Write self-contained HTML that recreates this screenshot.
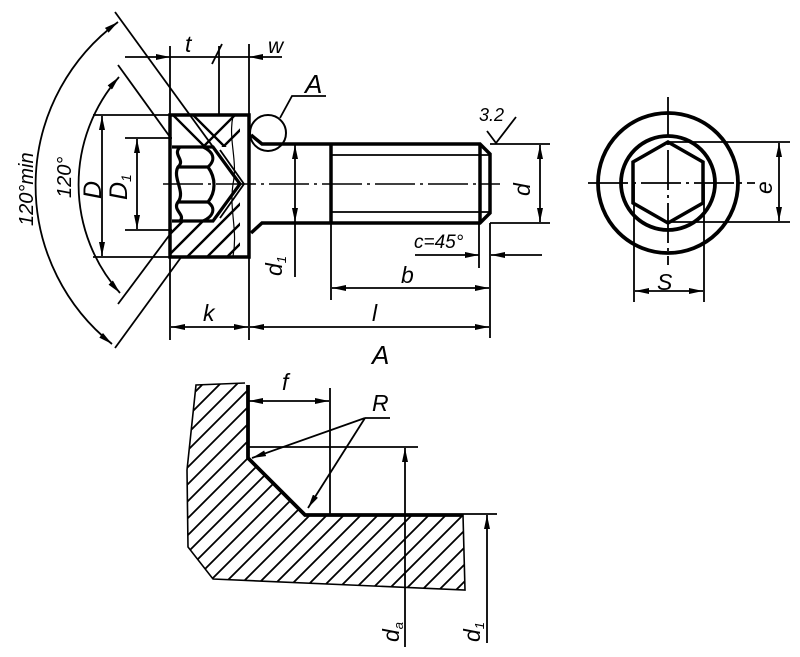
<!DOCTYPE html>
<html><head><meta charset="utf-8"><style>
html,body{margin:0;padding:0;background:#fff;}
svg{display:block;}
text{font-family:"Liberation Sans",sans-serif;font-style:italic;fill:#000;}
</style></head><body>
<svg width="800" height="657" viewBox="0 0 800 657" xmlns="http://www.w3.org/2000/svg">
<defs>
<marker id="a" viewBox="0 0 14 6" refX="14" refY="3" markerWidth="14" markerHeight="6" markerUnits="userSpaceOnUse" orient="auto-start-reverse"><path d="M0,0 L14,3 L0,6 z" fill="#000"/></marker>
<clipPath id="cs"><path d="M196,385 L245,383 L248,385 V458 L305,515 H463 L465,590 L213,579 L188,547 L187,470z"/></clipPath>
<clipPath id="ch1"><path d="M171,116 H240 V147 H171z"/></clipPath>
<clipPath id="ch2"><path d="M171,221 H213 L240,186 V256 H171z"/></clipPath>
</defs>
<g fill="none" stroke="#000">
<g clip-path="url(#ch1)" stroke-width="2.4">
<path d="M90,260 l150,-150 M110,260 l150,-150 M130,260 l150,-150 M150,260 l150,-150"/>
<path d="M168,110 l50,50 M188,110 l50,50"/>
</g>
<g clip-path="url(#ch2)" stroke-width="2.4">
<path d="M84,320 l150,-150 M104,320 l150,-150 M124,320 l150,-150 M144,320 l150,-150 M164,320 l150,-150 M184,320 l150,-150"/>
</g>
<path d="M233,116 C228,140 238,160 233,184 C229,210 238,230 233,256" stroke-width="1.2"/>
<rect x="170" y="115" width="79" height="142" stroke-width="3.5"/>
<path d="M172,147 H213 L240,184 L213,221 H172" stroke-width="3.2"/>
<path d="M180,147 C172,155 186,160 178,167 C172,178 186,192 178,202 C172,210 186,215 180,221" stroke-width="3.2"/>
<path d="M178,167 H208 C216,178 216,192 208,202 H178" stroke-width="3.2"/>
<path d="M203,147 C214,152 216,160 208,167" stroke-width="3"/>
<path d="M203,221 C214,216 216,208 208,202" stroke-width="3"/>
<path d="M220,150 L244,184 L220,218" stroke-width="1.8"/>
<path d="M251,135 L262,144 H480 L490,154 V213 L480,223 H262 L251,233" stroke-width="3.5"/>
<line x1="331" y1="144" x2="331" y2="223" stroke-width="3.5"/>
<line x1="480" y1="144" x2="480" y2="223" stroke-width="3.5"/>
<line x1="331" y1="155" x2="490" y2="155" stroke-width="1.8"/>
<line x1="331" y1="212" x2="490" y2="212" stroke-width="1.8"/>
<line x1="163" y1="184" x2="500" y2="184" stroke-width="1.5" stroke-dasharray="40,5,3,5"/>
<circle cx="268" cy="133" r="18" stroke-width="2"/>
<path d="M280,118 L292,96 H326" stroke-width="1.8"/>
<g stroke-width="1.8">
<line x1="115" y1="12" x2="240" y2="184"/>
<line x1="115" y1="348" x2="182" y2="256"/>
<line x1="118" y1="65" x2="170" y2="137"/>
<line x1="118" y1="304" x2="171" y2="233"/>
<path d="M118,22 A203,203 0 0 0 112,344" marker-start="url(#a)" marker-end="url(#a)"/>
<path d="M119,77 A163,163 0 0 0 120,293" marker-start="url(#a)" marker-end="url(#a)"/>
<line x1="93" y1="115" x2="170" y2="115"/><line x1="93" y1="257" x2="170" y2="257"/>
<line x1="102" y1="116" x2="102" y2="256" marker-start="url(#a)" marker-end="url(#a)"/>
<line x1="125" y1="138" x2="172" y2="138"/><line x1="125" y1="230" x2="172" y2="230"/>
<line x1="137" y1="139" x2="137" y2="229" marker-start="url(#a)" marker-end="url(#a)"/>
<line x1="170" y1="46" x2="170" y2="115"/><line x1="219" y1="46" x2="219" y2="115"/><line x1="249" y1="44" x2="249" y2="115"/>
<line x1="125" y1="57" x2="170" y2="57" marker-end="url(#a)"/>
<line x1="170" y1="57" x2="249" y2="57"/>
<line x1="282" y1="57" x2="249" y2="57" marker-end="url(#a)"/>
<line x1="212" y1="64" x2="222" y2="44"/>
<line x1="170" y1="257" x2="170" y2="340"/><line x1="249" y1="257" x2="249" y2="340"/>
<line x1="490" y1="223" x2="490" y2="338"/><line x1="331" y1="223" x2="331" y2="300"/>
<line x1="171" y1="327" x2="248" y2="327" marker-start="url(#a)" marker-end="url(#a)"/>
<line x1="250" y1="327" x2="489" y2="327" marker-start="url(#a)" marker-end="url(#a)"/>
<line x1="332" y1="288" x2="489" y2="288" marker-start="url(#a)" marker-end="url(#a)"/>
<line x1="295" y1="145" x2="295" y2="222" marker-start="url(#a)" marker-end="url(#a)"/>
<line x1="295" y1="222" x2="295" y2="277"/>
<line x1="479" y1="223" x2="479" y2="268"/>
<line x1="415" y1="255" x2="479" y2="255" marker-end="url(#a)"/>
<line x1="542" y1="255" x2="491" y2="255" marker-end="url(#a)"/>
<line x1="490" y1="144" x2="550" y2="144"/><line x1="490" y1="223" x2="550" y2="223"/>
<line x1="540" y1="145" x2="540" y2="222" marker-start="url(#a)" marker-end="url(#a)"/>
<path d="M487,131 L496,143 L516,117"/>
</g>
<circle cx="668" cy="183" r="70" stroke-width="3.8"/>
<circle cx="668" cy="183" r="47" stroke-width="3.8"/>
<polygon points="668,142 703,162 703,203 668,223 633,203 633,162" stroke-width="3.5"/>
<g stroke-width="1.8">
<line x1="588" y1="183" x2="755" y2="183" stroke-dasharray="40,5,3,5"/>
<line x1="668" y1="97" x2="668" y2="265" stroke-dasharray="40,5,3,5"/>
<line x1="668" y1="142" x2="790" y2="142"/><line x1="668" y1="222" x2="790" y2="222"/>
<line x1="779" y1="143" x2="779" y2="221" marker-start="url(#a)" marker-end="url(#a)"/>
<line x1="634" y1="184" x2="634" y2="302"/><line x1="704" y1="184" x2="704" y2="302"/>
<line x1="635" y1="291" x2="703" y2="291" marker-start="url(#a)" marker-end="url(#a)"/>
</g>
<g clip-path="url(#cs)" stroke-width="1.8">
<path d="M-64,600 l240,-240 M-47,600 l240,-240 M-30,600 l240,-240 M-13,600 l240,-240 M4,600 l240,-240 M21,600 l240,-240 M38,600 l240,-240 M55,600 l240,-240 M72,600 l240,-240 M89,600 l240,-240 M106,600 l240,-240 M123,600 l240,-240 M140,600 l240,-240 M157,600 l240,-240 M174,600 l240,-240 M191,600 l240,-240 M208,600 l240,-240 M225,600 l240,-240 M242,600 l240,-240 M259,600 l240,-240 M276,600 l240,-240 M293,600 l240,-240 M310,600 l240,-240 M327,600 l240,-240 M344,600 l240,-240 M361,600 l240,-240 M378,600 l240,-240 M395,600 l240,-240 M412,600 l240,-240 M429,600 l240,-240 M446,600 l240,-240 M463,600 l240,-240"/>
</g>
<path d="M248,458 L305,515 H463 L465,590 L213,579 L188,547 L187,470 L196,385 L245,383" stroke-width="1.6"/>
<path d="M248,385 V458 L305,515 H463" stroke-width="3.8"/>
<g stroke-width="1.8">
<line x1="330" y1="388" x2="330" y2="515"/>
<line x1="249" y1="401" x2="329" y2="401" marker-start="url(#a)" marker-end="url(#a)"/>
<line x1="248" y1="447" x2="418" y2="447"/>
<line x1="463" y1="514" x2="497" y2="514"/>
<path d="M390,418 H365"/>
<line x1="365" y1="418" x2="252" y2="458" marker-end="url(#a)"/>
<line x1="365" y1="418" x2="308" y2="508" marker-end="url(#a)"/>
<line x1="405" y1="647" x2="405" y2="448" marker-end="url(#a)"/>
<line x1="487" y1="643" x2="487" y2="515" marker-end="url(#a)"/>
</g>
</g>
<g font-size="23">
<text x="185" y="52">t</text>
<text x="268" y="53" font-size="21">w</text>
<text x="305" y="93" font-size="26">A</text>
<text x="479" y="121" font-size="18">3.2</text>
<text x="414" y="248" font-size="19">c=45°</text>
<text x="401" y="283">b</text>
<text x="372" y="321">l</text>
<text x="203" y="321">k</text>
<text x="372" y="364" font-size="26">A</text>
<text x="282" y="390">f</text>
<text x="372" y="411">R</text>
<text x="657" y="290">S</text>
<text transform="translate(282,276) rotate(-90)">d<tspan font-size="13" dy="4">1</tspan></text>
<text transform="translate(530,196) rotate(-90)">d</text>
<text transform="translate(772,194) rotate(-90)">e</text>
<text transform="translate(101,199) rotate(-90)" font-size="25">D</text>
<text transform="translate(127,200) rotate(-90)" font-size="25">D<tspan font-size="14" dy="4">1</tspan></text>
<text transform="translate(71,198) rotate(-90)" font-size="20">120°</text>
<text transform="translate(33,226) rotate(-90)" font-size="20">120°min</text>
<text transform="translate(399,642) rotate(-90)">d<tspan font-size="13" dy="4">a</tspan></text>
<text transform="translate(480,642) rotate(-90)">d<tspan font-size="13" dy="4">1</tspan></text>
</g>
</svg>
</body></html>
